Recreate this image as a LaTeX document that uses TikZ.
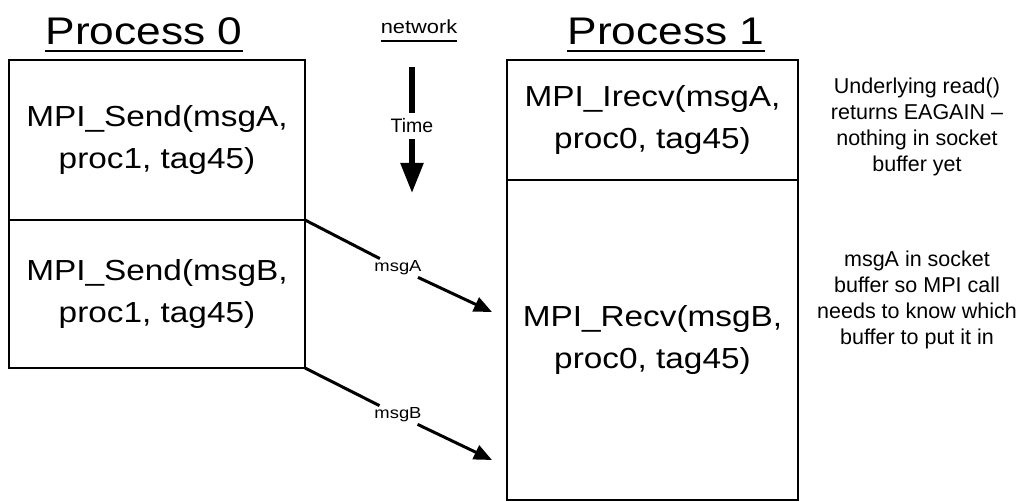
\documentclass[tikz,border=0pt]{standalone}
\usepackage{fontspec}
\setmainfont{Liberation Sans}
\newfontfamily\widefont[FakeStretch=1.15]{Liberation Sans}
\usetikzlibrary{positioning,arrows.meta}

\begin{document}
\begin{tikzpicture}[x=1pt, y=-1pt]
    \tikzstyle{callbox} = [rectangle, draw, line width=2pt, outer sep=0pt, align=center, font=\widefont\fontsize{29}{42}\selectfont]
    \tikzstyle{heading} = [inner xsep=0pt, anchor=base, font=\widefont\fontsize{38.5}{46}\selectfont]
    \tikzstyle{note} = [align=center, font=\fontsize{21.5}{26}\selectfont]
    \tikzstyle{msglabel} = [fill=white, inner sep=2pt, font=\widefont\fontsize{16}{19}\selectfont]
    \tikzstyle{msgline} = [line width=3pt]
    \tikzstyle{msgarrow} = [line width=3pt, -{Triangle[width=15pt,length=18pt]}]

    \useasboundingbox (0,0) rectangle (1031,502);

    % Headings
    \node [heading] (proc0) at (144,45) {Process 0};
    \node [heading] (proc1) at (666,45) {Process 1};
    \node [heading, font=\widefont\fontsize{19}{23}\selectfont] (net) at (419,34) {network};
    \draw [line width=2.5pt] ([yshift=-6pt]proc0.base west) -- ([yshift=-6pt]proc0.base east);
    \draw [line width=2.5pt] ([yshift=-6pt]proc1.base west) -- ([yshift=-6pt]proc1.base east);
    \draw [line width=1.5pt] ([yshift=-7pt]net.base west) -- ([yshift=-7pt]net.base east);

    % Process 0 calls
    \node [callbox, minimum width=296pt, minimum height=160pt, anchor=north west] (sendA) at (9,60) {MPI\_Send(msgA,\\proc1, tag45)};
    \node [callbox, minimum width=296pt, minimum height=148pt, below=0pt of sendA] (sendB) {MPI\_Send(msgB,\\proc1, tag45)};

    % Process 1 calls
    \node [callbox, minimum width=291pt, minimum height=120pt, anchor=north west] (irecv) at (507,60) {MPI\_Irecv(msgA,\\proc0, tag45)};
    \node [callbox, minimum width=291pt, minimum height=320pt, below=0pt of irecv] (recv) {MPI\_Recv(msgB,\\proc0, tag45)};

    % Notes
    \node [note] (note1) at (917,127) {Underlying read()\\returns EAGAIN –\\nothing in socket\\buffer yet};
    \node [note] (note2) at (917,300) {msgA in socket\\buffer so MPI call\\needs to know which\\buffer to put it in};

    % Time arrow
    \coordinate (timetop) at (412,67);
    \coordinate (timetip) at (412,193);
    \node [inner xsep=2pt, inner ysep=6pt, font=\fontsize{19.5}{23}\selectfont] (time) at (412,126) {Time};
    \draw [line width=5.5pt] (timetop) -- (time);
    \draw [line width=5.5pt, -{Triangle[width=22pt,length=30pt]}] (time) -- (timetip);

    % Messages
    \coordinate (msgAend) at (492,312);
    \coordinate (msgBend) at (492,460);
    \node [msglabel] (msgA) at (398,268) {msgA};
    \node [msglabel] (msgB) at (398,415) {msgB};
    \draw [msgline] (sendA.south east) -- (msgA);
    \draw [msgarrow] (msgA) -- (msgAend);
    \draw [msgline] (sendB.south east) -- (msgB);
    \draw [msgarrow] (msgB) -- (msgBend);
\end{tikzpicture}
\end{document}
